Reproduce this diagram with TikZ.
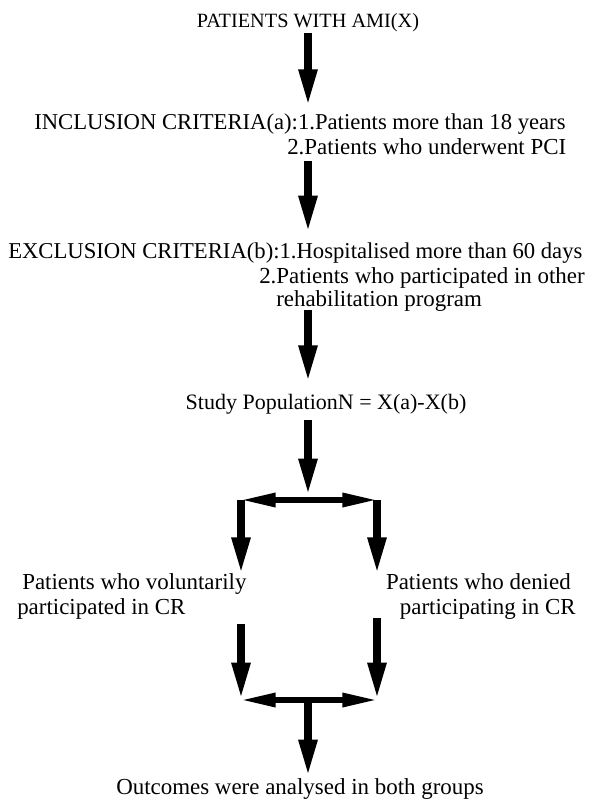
\documentclass[tikz,border=0pt]{standalone}
\usepackage{fontspec}
\setmainfont{Liberation Serif}
\usetikzlibrary{arrows.meta}
\begin{document}
\begin{tikzpicture}[x=0.75pt,y=-0.75pt,
    lbl/.style={inner sep=0pt, text height=10.5pt, text depth=3pt, font=\fontsize{17.2}{20}\selectfont},
    flow/.style={line width=6pt, -{Triangle[length=28pt,width=12.75pt]}},
    twoway/.style={line width=4pt, {Triangle[length=26pt,width=10pt]}-{Triangle[length=26pt,width=10pt]}}]
    \useasboundingbox (0,0) rectangle (594,800);
    \coordinate (spine) at (308,0);

    \node[lbl, anchor=base, font=\fontsize{15.2}{18}\selectfont] (title) at (308,27) {PATIENTS WITH AMI(X)};
    \node[lbl, anchor=base west, font=\fontsize{17}{20}\selectfont] (inc1) at (34,129) {INCLUSION CRITERIA(a):1.Patients more than 18 years};
    \node[lbl, anchor=base west] (inc2) at (287,154) {2.Patients who underwent PCI};
    \node[lbl, anchor=base west, font=\fontsize{17}{20}\selectfont] (exc1) at (8,258) {EXCLUSION CRITERIA(b):1.Hospitalised more than 60 days};
    \node[lbl, anchor=base west] (exc2) at (259,283) {2.Patients who participated in other};
    \node[lbl, anchor=base west] (exc3) at (276,306) {rehabilitation program};
    \node[lbl, anchor=base, font=\fontsize{16.5}{20}\selectfont] (study) at (326,409) {Study PopulationN = X(a)-X(b)};
    \node[lbl, anchor=base west] (vol1) at (22,589) {Patients who voluntarily};
    \node[lbl, anchor=base west] (vol2) at (17,614) {participated in CR};
    \node[lbl, anchor=base east] (den1) at (571,589) {Patients who denied};
    \node[lbl, anchor=base east] (den2) at (576,614) {participating in CR};
    \node[lbl, anchor=base] (outcome) at (300,794) {Outcomes were analysed in both groups};

    \coordinate (splitL) at (241,500);
    \coordinate (splitR) at (377,500);
    \coordinate (mergeL) at (241,700);
    \coordinate (mergeR) at (377,700);

    \draw[flow, shorten <=1pt, shorten >=6pt] (title.south -| spine) -- (inc1.north -| spine);
    \draw[flow, shorten <=2pt, shorten >=8pt] (inc2.south -| spine) -- (exc1.north -| spine);
    \draw[flow, shorten >=9pt] (exc3.south -| spine) -- (study.north -| spine);
    \draw[flow, shorten <=5pt, shorten >=3pt] (study.south -| spine) -- (splitL -| spine);
    \draw[twoway] (splitL) -- (splitR);
    \draw[flow] (splitL) -- (splitL |- vol1.north);
    \draw[flow] (splitR) -- (splitR |- den1.north);
    \draw[flow, shorten <=4pt] (vol2.south -| mergeL) -- (mergeL);
    \draw[flow] (den2.south -| mergeR) -- (mergeR);
    \draw[twoway] (mergeL) -- (mergeR);
    \draw[flow, shorten <=2pt, shorten >=2pt] (mergeL -| spine) -- (outcome.north -| spine);
\end{tikzpicture}
\end{document}
